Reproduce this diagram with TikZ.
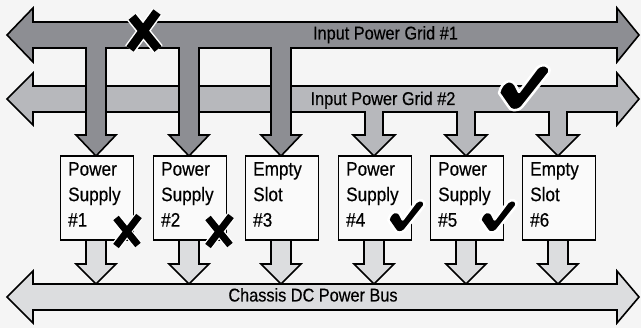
\documentclass[tikz,border=0pt]{standalone}
\usepackage{fontspec}
\setmainfont{Liberation Sans}[FakeStretch=0.88,FakeBold=0.4]
\usetikzlibrary{calc}
\definecolor{bgc}{HTML}{F5F5F5}
\definecolor{gridA}{HTML}{8D8E93}
\definecolor{gridB}{HTML}{B7B8BC}
\definecolor{busc}{HTML}{DCDDDF}
\definecolor{boxc}{HTML}{FAFAFA}
\tikzset{
  outl/.style={draw=black, line width=1.6pt, line join=miter},
  psbox/.style={outl, fill=boxc, minimum width=73pt, minimum height=84pt, inner sep=0pt, anchor=north west},
  pstext/.style={anchor=north west, inner sep=0pt, align=left, font=\fontsize{19.5}{25.5}\selectfont},
  lbl/.style={anchor=base, inner sep=0pt, font=\fontsize{18.5}{20}\selectfont},
  xstroke/.style={line width=8pt, line cap=butt},
  chk/.pic={
    \path[draw=white, line width=2.5pt, fill=black, line join=round]
      (-1,28) .. controls (2,15) and (13,12) .. (17,23) -- (19,27)
      -- (37,3) .. controls (42,-2) and (52,0) .. (49,8)
      -- (22,42) .. controls (17,47) and (10,46) .. (8,41) -- cycle;
  }
}
\begin{document}
\begin{tikzpicture}[x=1pt,y=-1pt]
\useasboundingbox (0,0) rectangle (641,328);
\fill[bgc] (0,0) rectangle (641,328);

% chassis bus with drops (drawn under boxes)
\path[outl, fill=busc]
  (7,297) -- (33,271) -- (33,284)
  -- (96,284) -- (76,264) -- (86,264) -- (86,236) -- (106,236) -- (106,264) -- (116,264) -- (96,284)
  -- (189,284) -- (169,264) -- (179,264) -- (179,236) -- (199,236) -- (199,264) -- (209,264) -- (189,284)
  -- (281,284) -- (261,264) -- (271,264) -- (271,236) -- (291,236) -- (291,264) -- (301,264) -- (281,284)
  -- (374,284) -- (354,264) -- (364,264) -- (364,236) -- (384,236) -- (384,264) -- (394,264) -- (374,284)
  -- (466,284) -- (446,264) -- (456,264) -- (456,236) -- (476,236) -- (476,264) -- (486,264) -- (466,284)
  -- (558,284) -- (538,264) -- (548,264) -- (548,236) -- (568,236) -- (568,264) -- (578,264) -- (558,284)
  -- (617,284) -- (617,271) -- (639,297) -- (617,323) -- (617,310) -- (33,310) -- (33,323) -- cycle;

% grid 2 with drops
\path[outl, fill=gridB]
  (7,99) -- (33,73) -- (33,86) -- (617,86) -- (617,73) -- (639,99) -- (617,125) -- (617,112)
  -- (567,112) -- (567,135) -- (579,135) -- (558,156) -- (537,135) -- (549,135) -- (549,112)
  -- (475,112) -- (475,135) -- (487,135) -- (466,156) -- (445,135) -- (457,135) -- (457,112)
  -- (383,112) -- (383,135) -- (395,135) -- (374,156) -- (353,135) -- (365,135) -- (365,112)
  -- (33,112) -- (33,125) -- cycle;

% grid 1 with drops
\path[outl, fill=gridA]
  (7,35) -- (33,8) -- (33,22) -- (617,22) -- (617,8) -- (639,35) -- (617,62) -- (617,48)
  -- (291,48) -- (291,135) -- (301,135) -- (281,156) -- (261,135) -- (271,135) -- (271,48)
  -- (199,48) -- (199,135) -- (209,135) -- (189,156) -- (169,135) -- (179,135) -- (179,48)
  -- (106,48) -- (106,135) -- (116,135) -- (96,156) -- (76,135) -- (86,135) -- (86,48)
  -- (33,48) -- (33,62) -- cycle;

% boxes
\node[psbox] (ps1) at (59.5,155) {};
\node[psbox] (ps2) at (152.5,155) {};
\node[psbox] (ps3) at (244.5,155) {};
\node[psbox] (ps4) at (337.5,155) {};
\node[psbox] (ps5) at (429.5,155) {};
\node[psbox] (ps6) at (521.5,155) {};

\node[pstext] (t1) at ($(ps1.north west)+(8.5,7)$) {Power\\Supply\\\#1};
\node[pstext] (t2) at ($(ps2.north west)+(8.5,7)$) {Power\\Supply\\\#2};
\node[pstext] (t3) at ($(ps3.north west)+(8.5,7)$) {Empty\\Slot\\\#3};
\node[pstext] (t4) at ($(ps4.north west)+(8.5,7)$) {Power\\Supply\\\#4};
\node[pstext] (t5) at ($(ps5.north west)+(8.5,7)$) {Power\\Supply\\\#5};
\node[pstext] (t6) at ($(ps6.north west)+(8.5,7)$) {Empty\\Slot\\\#6};

% labels
\node[lbl] (g1) at (385.5,39.5) {Input Power Grid \#1};
\node[lbl] (g2) at (383,105) {Input Power Grid \#2};
\node[lbl] (bus) at (313,301.5) {Chassis DC Power Bus};

% X marks
\draw[white, line width=12pt] (132,17) -- (158,49) (157,12) -- (130,49);
\draw[xstroke, line width=9pt] (132,17) -- (158,49) (157,12) -- (130,49);
\draw[white, line width=9.5pt] (116,218) -- (138,245) (139,216) -- (116,246);
\draw[xstroke, line width=7pt] (116,218) -- (138,245) (139,216) -- (116,246);
\draw[white, line width=9.5pt] (208,218) -- (230,245) (231,216) -- (208,246);
\draw[xstroke, line width=7pt] (208,218) -- (230,245) (231,216) -- (208,246);

% check marks
\pic at (500,65) {chk};
\pic[scale=0.72] at (389,200) {chk};
\pic[scale=0.72] at (481,200) {chk};
\end{tikzpicture}
\end{document}
